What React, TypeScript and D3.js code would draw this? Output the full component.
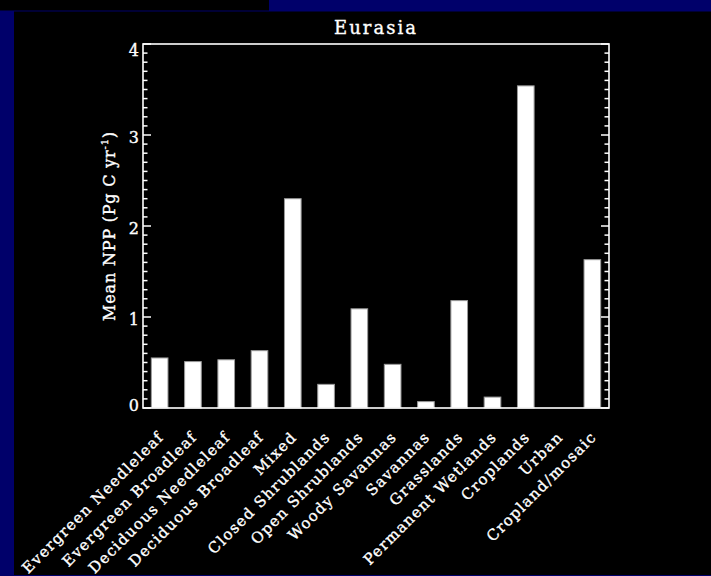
import * as d3 from "d3";
import React, { useEffect } from "react";

const categories = [
  "Evergreen Needleleaf",
  "Evergreen Broadleaf",
  "Deciduous Needleleaf",
  "Deciduous Broadleaf",
  "Mixed",
  "Closed Shrublands",
  "Open Shrublands",
  "Woody Savannas",
  "Savannas",
  "Grasslands",
  "Permanent Wetlands",
  "Croplands",
  "Urban",
  "Cropland/mosaic",
];

const npp = [0.55, 0.51, 0.53, 0.63, 2.3, 0.26, 1.09, 0.48, 0.07, 1.18, 0.12, 3.54, 0, 1.63];

const yTicks = [0, 1, 2, 3, 4];

const W = 711;
const H = 576;
const navy = "#00006a";
const font = "'DejaVu Serif', serif";

// IDL-ish nudges for the y tick labels
const tickDy = (t: number) => (t === 0 ? 3 : t === 4 ? 12 : 8);

export default function App() {
  useEffect(() => {
    document.body.style.margin = "0";
    document.body.style.background = "#000";
  }, []);

  const margin = { top: 44, right: 102, bottom: 168, left: 143 };
  const plotW = W - margin.left - margin.right;
  const plotH = H - margin.top - margin.bottom;

  const x = d3.scaleBand<string>().domain(categories).range([0, plotW]).paddingInner(0.5).paddingOuter(0.25);
  const y = d3.scaleLinear().domain([0, 4]).range([plotH, 0]);
  const minor = d3.range(0, 40).map((i) => i / 10).filter((v) => !yTicks.includes(v));

  const textProps = { fill: "#fff", stroke: "#fff", strokeWidth: 0.35 };

  return (
    <svg width={W} height={H} style={{ display: "block", background: "#000" }} fontFamily={font}>
      {/* window frame */}
      <rect x={269} y={0} width={W - 269} height={11} fill={navy} />
      <rect x={0} y={11} width={14} height={H - 11} fill={navy} />
      <rect x={0} y={10.5} width={W} height={1} fill={navy} />
      <rect x={0} y={575} width={W} height={1} fill={navy} />

      <text x={margin.left + plotW / 2} y={34} {...textProps} fontSize={18} textAnchor="middle" letterSpacing={2}>
        Eurasia
      </text>

      <g transform={`translate(${margin.left},${margin.top})`}>
        {npp.map((v, i) => (
          <rect
            key={categories[i]}
            x={x(categories[i])!}
            y={y(v)}
            width={x.bandwidth()}
            height={plotH - y(v)}
            fill="#fff"
            stroke="#9a9a9a"
            strokeWidth={1}
          />
        ))}

        <rect x={0} y={0} width={plotW} height={plotH} fill="none" stroke="#fff" strokeWidth={1.6} />

        {yTicks.map((t) => (
          <g key={t}>
            <line x1={0} x2={8} y1={y(t)} y2={y(t)} stroke="#fff" strokeWidth={1.5} />
            <line x1={plotW - 8} x2={plotW} y1={y(t)} y2={y(t)} stroke="#fff" strokeWidth={1.5} />
            <text x={-4} y={y(t)} dy={tickDy(t)} {...textProps} fontSize={16} textAnchor="end">
              {t}
            </text>
          </g>
        ))}
        {minor.map((t) => (
          <g key={t}>
            <line x1={0} x2={4.5} y1={y(t)} y2={y(t)} stroke="#fff" strokeWidth={1.5} />
            <line x1={plotW - 4.5} x2={plotW} y1={y(t)} y2={y(t)} stroke="#fff" strokeWidth={1.5} />
          </g>
        ))}

        {categories.map((c) => (
          <text
            key={c}
            transform={`translate(${x(c)! + x.bandwidth() / 2 + 5},${plotH + 30}) rotate(-45)`}
            {...textProps}
            fontSize={15}
            letterSpacing={1.3}
            textAnchor="end"
          >
            {c}
          </text>
        ))}

        <text
          transform={`translate(-28,${plotH / 2}) rotate(-90)`}
          {...textProps}
          fontSize={16}
          letterSpacing={0.8}
          textAnchor="middle"
        >
          Mean NPP (Pg C yr
          <tspan fontSize={10} dy={-7}>-1</tspan>
          <tspan dy={7}>)</tspan>
        </text>
      </g>
    </svg>
  );
}
